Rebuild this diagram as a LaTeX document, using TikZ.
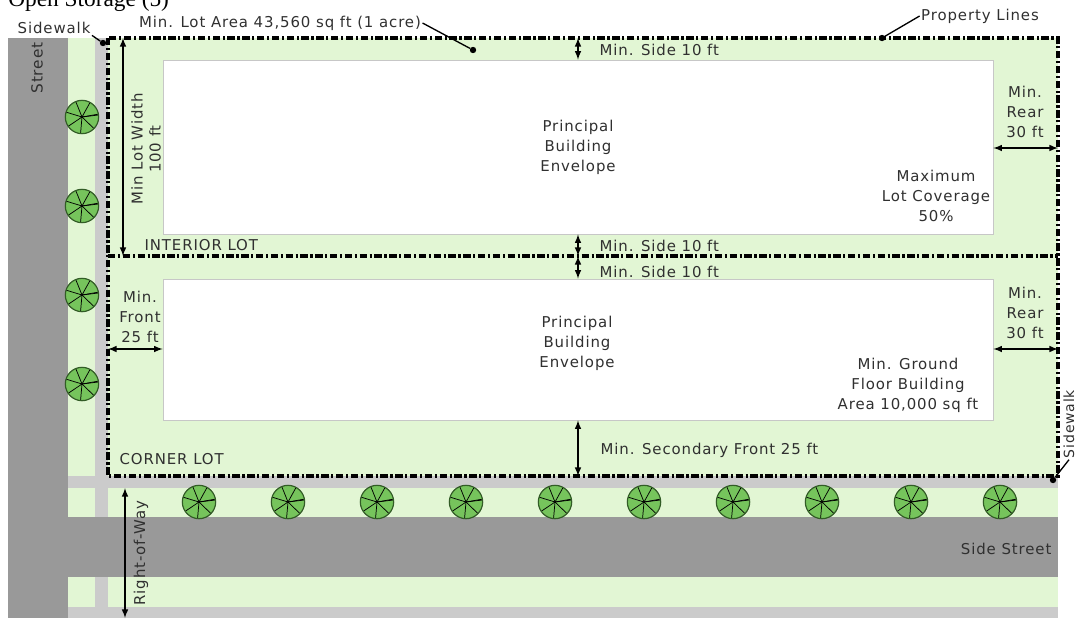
\documentclass[tikz,border=0pt]{standalone}
\usepackage{fontspec}
\setmainfont{DejaVu Sans}
\newfontfamily\lblfont[LetterSpace=6]{DejaVu Sans}
\newfontfamily\titlefont{Liberation Serif}
\definecolor{grass}{RGB}{226,246,212}
\definecolor{road}{RGB}{153,153,153}
\definecolor{walk}{RGB}{203,203,203}
\definecolor{leaf}{RGB}{118,196,92}
\definecolor{leafdark}{RGB}{50,92,38}
\definecolor{ink}{RGB}{48,48,48}
\usetikzlibrary{positioning,calc,fit}

\begin{document}
\begin{tikzpicture}[x=0.75pt,y=-0.75pt,
    every node/.style={text=ink,font=\lblfont\fontsize{11.2}{15}\selectfont},
    lbl/.style={align=center,inner sep=1pt},
    propline/.style={line width=2.4pt,dash pattern=on 5.5pt off 2pt on 1.6pt off 2pt},
    dimarrow/.style={<->,>=latex,line width=1.2pt},
    leaderline/.style={line width=1pt},
    dotmark/.style={circle,fill=black,inner sep=0pt,minimum size=4.8pt},
    envbox/.style={fill=white,draw=black!22,line width=0.6pt,inner sep=0pt},
    treenode/.style={circle,draw=leafdark,fill=leaf,line width=0.9pt,minimum size=25pt,inner sep=0pt,
      path picture={\foreach \a in {10,61,...,370}
        \draw[black,line width=0.55pt] (path picture bounding box.center) -- ++(\a:13pt);}}
    ]
    \useasboundingbox (0,0) rectangle (1078,618);

    % ground, walks and streets
    \fill[grass] (68,38) rectangle (1058,607);
    \fill[walk] (95,38) rectangle (108,618);
    \fill[walk] (68,476) rectangle (1058,488);
    \fill[walk] (68,607) rectangle (1058,618);
    \fill[road] (68,517) rectangle (1058,577);
    \fill[road] (8,38) rectangle (68,618);

    % property corners
    \coordinate (pNW) at (108,38);
    \coordinate (pNE) at (1058,38);
    \coordinate (pW) at (108,256);
    \coordinate (pE) at (1058,256);
    \coordinate (pSW) at (108,476);
    \coordinate (pSE) at (1058,476);

    % building envelopes
    \coordinate (eiNW) at (163,60);
    \coordinate (eiSE) at (993,234);
    \coordinate (ecNW) at (163,279);
    \coordinate (ecSE) at (993,420);
    \node[envbox,fit=(eiNW)(eiSE)] (envI) {};
    \node[envbox,fit=(ecNW)(ecSE)] (envC) {};

    % property lines
    \draw[propline] (pNW) rectangle (pSE);
    \draw[propline] (pW) -- (pE);

    % street trees
    \foreach \y [count=\i] in {117,206,295,384}
    \node[treenode] (tv\i) at (82,\y) {};
    \foreach \x [count=\i] in {199,288,...,1000}
    \node[treenode] (th\i) at (\x,502) {};

    % title, cut off at the top
    \node[font=\titlefont\fontsize{17.5}{20}\selectfont,text=black,anchor=base west,inner sep=0pt] (title) at (8,6) {Open Storage (5)};

    % leaders
    \node[lbl,anchor=east] (walkN) at (92,28) {Sidewalk};
    \node[dotmark] (walkNdot) at (103,43) {};
    \draw[leaderline] (walkN.south east) -- (walkNdot);
    \node[lbl] (lotarea) at (280,23) {Min. Lot Area 43,560 sq ft (1 acre)};
    \node[dotmark] (lotdot) at (473,50) {};
    \draw[leaderline] (lotarea.east) -- (lotdot);
    \node[lbl] (proplbl) at (980,16) {Property Lines};
    \node[dotmark] (propdot) at (882,38) {};
    \draw[leaderline] (proplbl.west) -- (propdot);
    \node[lbl,rotate=90,font=\lblfont\fontsize{10.5}{12}\selectfont] (walkE) at (1069,424) {Sidewalk};
    \node[dotmark] (walkEdot) at (1053,480) {};
    \draw[leaderline] (walkE.west) -- (walkEdot);

    % dimension lines
    \coordinate (mx) at (578,0);
    \coordinate (lwx) at (123,0);
    \coordinate (rearY) at (0,148);
    \coordinate (frontY) at (0,349);
    \coordinate (rowTop) at (125,488);
    \coordinate (rowBot) at (125,618);
    \draw[dimarrow] (lwx |- pNW) -- (lwx |- pW);
    \draw[dimarrow] (mx |- pNW) -- (mx |- envI.north);
    \draw[dimarrow] (mx |- envI.south) -- (mx |- pW);
    \draw[dimarrow] (mx |- pW) -- (mx |- envC.north);
    \draw[dimarrow] (mx |- envC.south) -- (mx |- pSW);
    \draw[dimarrow] (envI.east |- rearY) -- (pNE |- rearY);
    \draw[dimarrow] (envC.east |- frontY) -- (pE |- frontY);
    \draw[dimarrow] (pW |- frontY) -- (envC.west |- frontY);
    \draw[dimarrow] (rowTop) -- (rowBot);

    % labels
    \node[lbl,rotate=90,font=\lblfont\fontsize{11.5}{13}\selectfont] (street) at (37,68) {Street};
    \node[lbl,rotate=90,font=\lblfont\fontsize{11.2}{13.5}\selectfont] (lotwidth) at (146,149) {Min Lot Width\\100 ft};
    \node[lbl,anchor=west] (sideA) at (598,50) {Min. Side 10 ft};
    \node[lbl] (princI) at (envI.center) {Principal\\Building\\Envelope};
    \node[lbl] (rearA) at (1025,112) {Min.\\Rear\\30 ft};
    \node[lbl] (coverage) at (936,196) {Maximum\\Lot Coverage\\50\%};
    \node[lbl,anchor=west] (interior) at (143,245) {INTERIOR LOT};
    \node[lbl,anchor=west] (sideB) at (598,246) {Min. Side 10 ft};
    \node[lbl,anchor=west] (sideC) at (598,272) {Min. Side 10 ft};
    \node[lbl] (front) at (140,317) {Min.\\Front\\25 ft};
    \node[lbl] (princC) at (577,343) {Principal\\Building\\Envelope};
    \node[lbl] (rearB) at (1025,313) {Min.\\Rear\\30 ft};
    \node[lbl] (ground) at (908,385) {Min. Ground\\Floor Building\\Area 10,000 sq ft};
    \node[lbl,anchor=west] (secfront) at (599,450) {Min. Secondary Front 25 ft};
    \node[lbl,anchor=west] (corner) at (118,459) {CORNER LOT};
    \node[lbl,rotate=90] (row) at (141,553) {Right-of-Way};
    \node[lbl,anchor=east] (sidestreet) at (1053,549) {Side Street};
\end{tikzpicture}
\end{document}
